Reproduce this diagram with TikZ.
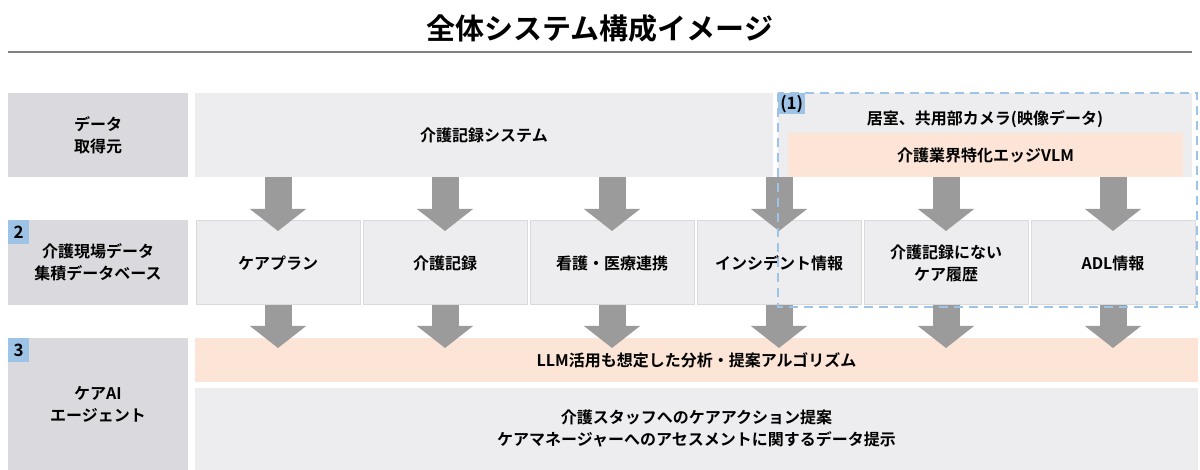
\documentclass[tikz,border=0pt]{standalone}
\usepackage{fontspec}
\setmainfont{Noto Sans CJK JP}[BoldFont={* Bold}]
\usepackage{tikz}
\usetikzlibrary{arrows.meta, positioning}
\definecolor{colorLabel}{HTML}{DADADE}
\definecolor{colorBox}{HTML}{EDEDF0}
\definecolor{colorAlgo}{HTML}{FCE5D7}
\definecolor{colorTag}{HTML}{9DC3E6}
\definecolor{colorFlow}{HTML}{9B9B9B}
\tikzset{
  blk/.style={anchor=north west, inner sep=0pt, outer sep=0pt, align=center,
    font=\bfseries\fontsize{16}{22}\selectfont},
  lbl/.style={blk, fill=colorLabel, minimum width=180pt},
  cell/.style={blk, fill=colorBox, draw=colorLabel, line width=1pt,
    minimum width=164pt, minimum height=84pt},
  tag/.style={anchor=north west, fill=colorTag, inner sep=0pt, minimum width=21pt,
    minimum height=24pt, font=\bfseries\fontsize{17}{17}\selectfont},
  flow/.style={colorFlow, line width=27pt, -{Triangle[width=55pt, length=22pt]}},
}
\begin{document}
\begin{tikzpicture}[x=1pt, y=-1pt]
\useasboundingbox (0,0) rectangle (1200,470);
\node[font=\bfseries\fontsize{29}{29}\selectfont] (title) at (600,29) {全体システム構成イメージ};
\draw[gray, line width=1.2pt] (8,52) -- (1192,52);
% row 1: data sources
\node[lbl, minimum height=84pt] (src) at (8,93) {データ\\取得元};
\node[blk, fill=colorBox, minimum width=578pt, minimum height=84pt] (sys) at (195,93) {介護記録システム};
\node[blk, fill=colorBox, minimum width=414pt, minimum height=84pt] (cam) at (778,93) {};
\node[blk, anchor=center] (camtxt) at (985,119) {居室、共用部カメラ(映像データ)};
\node[blk, fill=colorAlgo, minimum width=395pt, minimum height=44pt] (vlm) at (788,133) {介護業界特化エッジVLM};
% row 2: database
\node[lbl, minimum height=85pt] (db) at (8,220) {介護現場データ\\集積データベース};
\node[cell] (c1) at (196,221) {ケアプラン};
\node[cell] (c2) at (363,221) {介護記録};
\node[cell] (c3) at (530,221) {看護・医療連携};
\node[cell] (c4) at (697,221) {インシデント情報};
\node[cell] (c5) at (864,221) {介護記録にない\\ケア履歴};
\node[cell] (c6) at (1031,221) {ADL情報};
% row 3: agent
\node[lbl, minimum height=132pt] (agent) at (8,338) {ケアAI\\エージェント};
\node[blk, fill=colorAlgo, minimum width=1003pt, minimum height=44pt] (algo) at (195,338) {LLM活用も想定した分析・提案アルゴリズム};
\node[blk, fill=colorBox, minimum width=1003pt, minimum height=82pt] (act) at (195,388) {介護スタッフへのケアアクション提案\\ケアマネージャーへのアセスメントに関するデータ提示};
% flows
\foreach \c in {c1,c2,c3,c4} \draw[flow] (sys.south -| \c.north) -- ([yshift=-10pt]\c.north);
\foreach \c in {c5,c6} \draw[flow] (vlm.south -| \c.north) -- ([yshift=-10pt]\c.north);
\foreach \c in {c1,c2,c3,c4,c5,c6} \draw[flow] (\c.south) -- ([yshift=-10pt]\c.south |- algo.north);
% tags
\node[tag] (tag2) at (8,220) {2};
\node[tag] (tag3) at (8,338) {3};
\draw[colorTag, line width=2pt, dash pattern=on 9pt off 6pt] (778,93) rectangle (1197,307);
\node[tag, minimum width=27pt, minimum height=21pt] (tag1) at (778,93) {(1)};
\end{tikzpicture}
\end{document}
